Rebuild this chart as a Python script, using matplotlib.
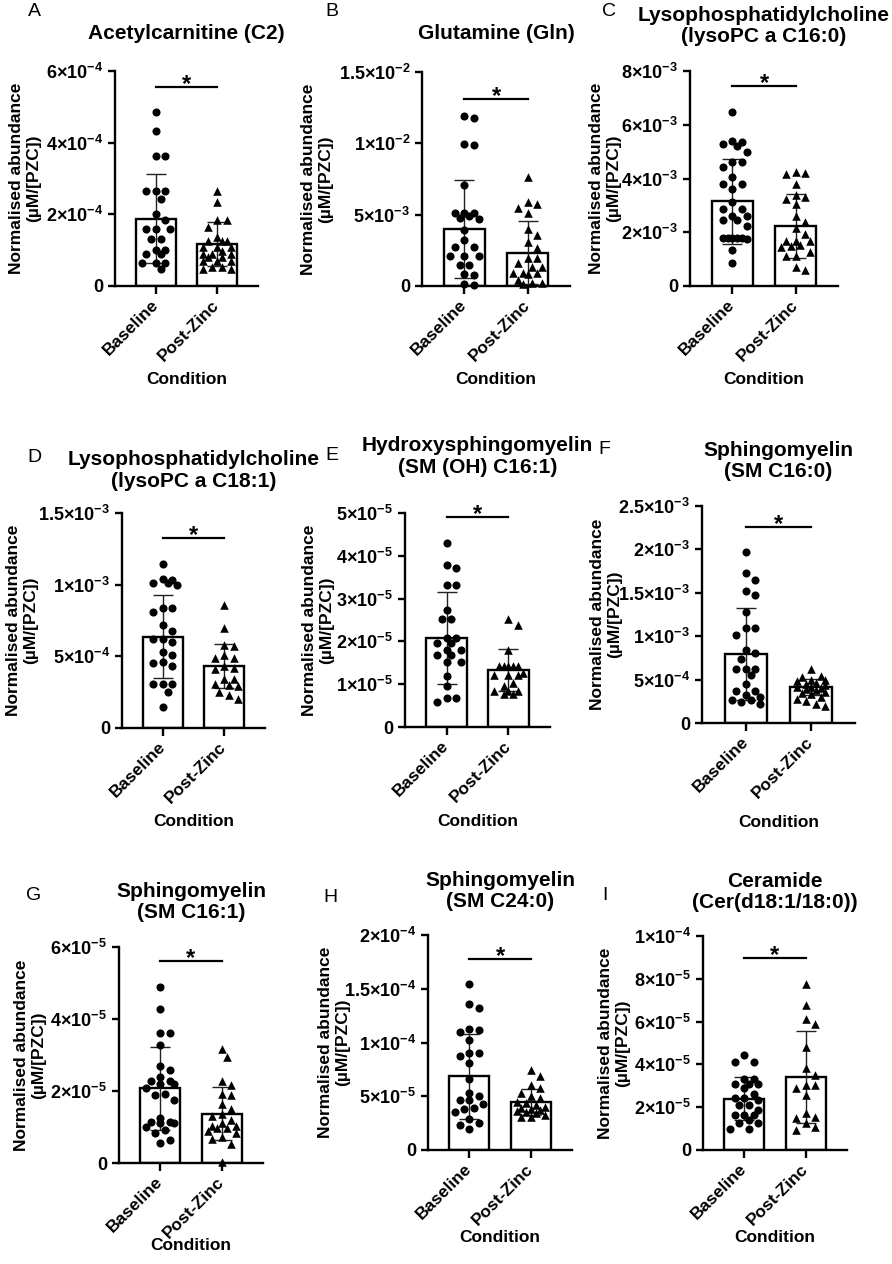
import numpy as np
import matplotlib
matplotlib.use('Agg')
import matplotlib.pyplot as plt
from matplotlib.ticker import FixedLocator, FuncFormatter

plt.rcParams['font.family'] = ['Liberation Sans', 'DejaVu Sans']
plt.rcParams['font.weight'] = 'bold'
plt.rcParams['mathtext.fontset'] = 'custom'
plt.rcParams['mathtext.rm'] = 'Liberation Sans:bold'
plt.rcParams['mathtext.bf'] = 'Liberation Sans:bold'
plt.rcParams['mathtext.it'] = 'Liberation Sans:bold:italic'

# ---- data ----
groups = ['Baseline', 'Post-Zinc']
letters = ['A', 'B', 'C', 'D', 'E', 'F', 'G', 'H', 'I']
titles = ['Acetylcarnitine (C2)',
          'Glutamine (Gln)',
          'Lysophosphatidylcholine\n(lysoPC a C16:0)',
          'Lysophosphatidylcholine\n(lysoPC a C18:1)',
          'Hydroxysphingomyelin\n(SM (OH) C16:1)',
          'Sphingomyelin\n(SM C16:0)',
          'Sphingomyelin\n(SM C16:1)',
          'Sphingomyelin\n(SM C24:0)',
          'Ceramide\n(Cer(d18:1/18:0))']

base_a = np.array([4.85, 4.33, 3.64, 3.64, 2.66, 2.66, 2.66, 2.43, 2.0, 1.84, 1.58, 1.58, 1.58,
                   1.32, 1.32, 1.0, 1.0, 0.89, 0.89, 0.63, 0.63, 0.63, 0.47]) * 1e-4
zinc_a = np.array([2.66, 2.35, 1.84, 1.84, 1.66, 1.38, 1.26, 1.26, 1.26, 1.1, 1.1, 1.1, 0.99,
                   0.89, 0.89, 0.89, 0.8, 0.8, 0.7, 0.7, 0.7, 0.54, 0.54, 0.47, 0.47]) * 1e-4
base_b = np.array([11.9, 11.8, 9.95, 9.85, 7.1, 5.1, 5.1, 5.1, 4.9, 4.75, 4.7, 3.9, 3.2, 2.7,
                   2.7, 2.1, 2.1, 2.1, 1.5, 1.45, 0.85, 0.8, 0.15, 0.1]) * 1e-3
zinc_b = np.array([7.65, 5.9, 5.75, 5.45, 5.1, 4.0, 3.55, 3.1, 2.65, 1.95, 1.95, 1.6, 1.35,
                   1.35, 0.9, 0.9, 0.9, 0.85, 0.45, 0.2, 0.2, 0.15]) * 1e-3
base_c = np.array([6.49, 5.4, 5.35, 5.28, 5.22, 5.0, 4.63, 4.63, 4.44, 4.07, 3.78, 3.78, 3.6,
                   3.14, 2.87, 2.87, 2.6, 2.6, 2.45, 2.45, 2.25, 1.8, 1.8, 1.8, 1.8, 1.8,
                   1.75, 1.34, 0.84]) * 1e-3
zinc_c = np.array([4.25, 4.2, 4.15, 3.78, 3.38, 3.3, 3.25, 3.05, 2.6, 2.4, 2.17, 1.93, 1.68,
                   1.68, 1.68, 1.53, 1.47, 1.45, 1.28, 1.13, 1.1, 0.72, 0.6]) * 1e-3
base_d = np.array([1.145, 1.04, 1.03, 1.01, 1.01, 1.0, 0.84, 0.84, 0.81, 0.72, 0.68, 0.62,
                   0.62, 0.60, 0.53, 0.51, 0.46, 0.455, 0.43, 0.31, 0.31, 0.31, 0.25, 0.15]) * 1e-3
zinc_d = np.array([0.86, 0.695, 0.58, 0.57, 0.51, 0.49, 0.485, 0.43, 0.42, 0.41, 0.345, 0.34,
                   0.31, 0.30, 0.29, 0.25, 0.23, 0.20]) * 1e-3
base_e = np.array([4.31, 3.79, 3.71, 3.32, 3.32, 2.74, 2.53, 2.53, 2.08, 2.08, 1.96, 1.96,
                   1.81, 1.81, 1.69, 1.69, 1.53, 1.53, 1.18, 0.95, 0.68, 0.68, 0.58]) * 1e-5
zinc_e = np.array([2.53, 2.39, 1.81, 1.43, 1.43, 1.43, 1.43, 1.43, 1.26, 1.22, 1.22, 1.22,
                   1.03, 0.95, 0.83, 0.83, 0.83, 0.78, 0.78]) * 1e-5
base_f = np.array([1.97, 1.73, 1.65, 1.52, 1.48, 1.28, 1.1, 1.1, 1.01, 0.84, 0.81, 0.74, 0.62,
                   0.62, 0.62, 0.55, 0.45, 0.37, 0.37, 0.32, 0.30, 0.27, 0.26, 0.24, 0.22]) * 1e-3
zinc_f = np.array([0.62, 0.54, 0.53, 0.5, 0.5, 0.48, 0.46, 0.45, 0.44, 0.42, 0.41, 0.4, 0.39,
                   0.38, 0.36, 0.35, 0.33, 0.3, 0.28, 0.25, 0.22, 0.2]) * 1e-3
base_g = np.array([4.9, 4.27, 3.6, 3.6, 3.28, 2.69, 2.58, 2.38, 2.28, 2.28, 2.19, 2.19, 2.07,
                   1.93, 1.88, 1.75, 1.26, 1.14, 1.14, 1.1, 1.1, 1.0, 0.91, 0.82, 0.65, 0.56]) * 1e-5
zinc_g = np.array([3.18, 2.95, 2.28, 2.16, 1.93, 1.88, 1.65, 1.51, 1.37, 1.3, 1.19, 1.1, 1.02,
                   1.02, 0.96, 0.96, 0.89, 0.82, 0.72, 0.68, 0.52, 0.02]) * 1e-5
base_h = np.array([15.4, 13.6, 13.2, 11.3, 11.2, 11.0, 10.2, 9.05, 9.05, 8.7, 8.1, 6.6, 5.3,
                   5.0, 4.65, 4.65, 4.3, 3.9, 3.8, 3.55, 2.85, 2.55, 2.3, 2.0]) * 1e-5
zinc_h = np.array([7.45, 6.9, 6.05, 5.75, 5.3, 5.0, 4.8, 4.5, 4.35, 4.2, 4.0, 3.9, 3.8, 3.7,
                   3.6, 3.55, 3.4, 3.25, 3.1, 3.1]) * 1e-5
base_i = np.array([4.43, 4.12, 4.12, 3.34, 3.34, 3.1, 3.1, 3.1, 2.88, 2.64, 2.41, 2.41, 2.33,
                   2.1, 2.1, 1.87, 1.63, 1.63, 1.63, 1.4, 1.24, 1.24, 0.96, 0.96]) * 1e-5
zinc_i = np.array([7.75, 6.77, 6.1, 5.88, 4.79, 3.81, 3.5, 3.03, 3.03, 2.88, 2.57, 1.71, 1.52,
                   1.48, 1.24, 1.06, 0.93]) * 1e-5

base_vals = [base_a, base_b, base_c, base_d, base_e, base_f, base_g, base_h, base_i]
zinc_vals = [zinc_a, zinc_b, zinc_c, zinc_d, zinc_e, zinc_f, zinc_g, zinc_h, zinc_i]

# mean and SD as shown by the bars / error bars
mean_base = [1.88e-4, 4.0e-3, 3.16e-3, 0.637e-3, 2.08e-5, 0.79e-3, 2.07e-5, 6.88e-5, 2.39e-5]
sd_base = [1.24e-4, 3.45e-3, 1.58e-3, 0.288e-3, 1.07e-5, 0.53e-3, 1.16e-5, 3.95e-5, 1.0e-5]
mean_zinc = [1.17e-4, 2.33e-3, 2.23e-3, 0.43e-3, 1.33e-5, 0.415e-3, 1.37e-5, 4.43e-5, 3.42e-5]
sd_zinc = [0.61e-4, 2.2e-3, 1.18e-3, 0.153e-3, 0.5e-5, 0.09e-3, 0.74e-5, 1.22e-5, 2.15e-5]

yticks = [[0, 2e-4, 4e-4, 6e-4],
          [0, 5e-3, 1e-2, 1.5e-2],
          [0, 2e-3, 4e-3, 6e-3, 8e-3],
          [0, 5e-4, 1e-3, 1.5e-3],
          [0, 1e-5, 2e-5, 3e-5, 4e-5, 5e-5],
          [0, 5e-4, 1e-3, 1.5e-3, 2e-3, 2.5e-3],
          [0, 2e-5, 4e-5, 6e-5],
          [0, 5e-5, 1e-4, 1.5e-4, 2e-4],
          [0, 2e-5, 4e-5, 6e-5, 8e-5, 1e-4]]

# ---- layout (pixels in the 892x1264 figure) ----
W, H = 892, 1264
axes_px = [(115, 71, 258, 286), (422, 72, 570, 286), (690, 71, 838, 286),
           (122, 513, 265, 728), (405, 513, 550, 727), (702, 506, 855, 723),
           (119, 947, 263, 1163), (428, 935, 572, 1150), (703, 936, 847, 1150)]
letter_px = [(34, 11), (332, 11), (609, 11), (34, 457), (332, 455), (604, 450),
             (34, 895), (330, 897), (605, 896)]
title_pad = [23, 24, 21, 19, 29, 21, 21, 20, 20]
ylabel_dx = [-90, -105, -85, -100, -87, -96, -89, -94, -89]
xlabel_dy = [94, 94, 94, 94, 94, 99, 82, 87, 87]
sig_frac = [0.925, 0.873, 0.93, 0.883, 0.98, 0.904, 0.937, 0.89, 0.897]


def sci_fmt(v, pos=None):
    if v == 0:
        return '0'
    e = int(np.floor(np.log10(v) + 1e-9))
    m = v / 10 ** e
    return r'$%s{\times}10^{%d}$' % (('%.1f' % m).rstrip('0').rstrip('.'), e)


def swarm_offsets(ax, xc, vals, diam, maxoff):
    # simple beeswarm kept inside the bar: free spot if there is one,
    # otherwise the spot with the least crowding
    pts = ax.transData.transform(np.column_stack([np.full(len(vals), xc), vals]))
    ys = pts[:, 1]
    px_per_x = ax.transData.transform((1, 0))[0] - ax.transData.transform((0, 0))[0]
    maxpx = maxoff * px_per_x
    nstep = int(maxpx // (diam * 0.5))
    cands = [0.0]
    for k in range(1, nstep + 1):
        cands += [k * diam * 0.5, -k * diam * 0.5]
    placed = []
    offs = np.zeros(len(vals))
    for i in np.argsort(-ys):
        best, best_d = 0.0, -1
        for dx in cands:
            d = min([np.hypot(px - dx, py - ys[i]) for px, py in placed] + [1e9])
            if d >= diam:
                best = dx
                break
            if d > best_d:
                best, best_d = dx, d
        placed.append((best, ys[i]))
        offs[i] = best / px_per_x
    return offs


fig = plt.figure(figsize=(W / 100, H / 100), dpi=100)

for i in range(9):
    l, t, r, b = axes_px[i]
    ax = fig.add_axes([l / W, 1 - b / H, (r - l) / W, (b - t) / H])
    ax.set_xlim(-0.67, 1.67)
    ax.set_ylim(0, yticks[i][-1])

    ax.bar([0, 1], [mean_base[i], mean_zinc[i]], width=0.65, color='white',
           edgecolor='black', linewidth=1.7, zorder=1)
    ax.errorbar([0, 1], [mean_base[i], mean_zinc[i]], yerr=[sd_base[i], sd_zinc[i]],
                fmt='none', ecolor='#222222', elinewidth=1.0, capsize=7, capthick=1.0,
                zorder=2)

    ob = swarm_offsets(ax, 0, base_vals[i], 9.5, 0.27)
    oz = swarm_offsets(ax, 1, zinc_vals[i], 9.5, 0.27)
    ax.scatter(0 + ob, base_vals[i], s=34, marker='o', color='black', linewidths=0,
               zorder=3, clip_on=False)
    ax.scatter(1 + oz, zinc_vals[i], s=38, marker='^', color='black', linewidths=0,
               zorder=3, clip_on=False)

    # significance bar
    sy = sig_frac[i] * yticks[i][-1]
    ax.plot([0, 1], [sy, sy], color='black', lw=1.6, clip_on=False, zorder=4)
    ax.annotate('*', (0.5, sy), xytext=(0, -3), textcoords='offset points',
                ha='center', va='baseline', fontsize=17, fontweight='bold',
                annotation_clip=False)

    for side in ['top', 'right']:
        ax.spines[side].set_visible(False)
    for side in ['left', 'bottom']:
        ax.spines[side].set_linewidth(1.7)

    ax.yaxis.set_major_locator(FixedLocator(yticks[i]))
    ax.yaxis.set_major_formatter(FuncFormatter(sci_fmt))
    ax.set_xticks([0, 1])
    ax.set_xticklabels(groups, rotation=45, ha='right', va='center',
                       rotation_mode='anchor')
    ax.tick_params(axis='both', width=1.7, length=5, labelsize=13)
    ax.tick_params(axis='x', length=6, pad=6, labelsize=12.5)

    ax.set_title(titles[i], fontsize=15, fontweight='bold', pad=title_pad[i],
                 linespacing=1.15)
    ax.set_ylabel('Normalised abundance\n(µM/[PZC])', fontsize=12.5,
                  fontweight='bold', va='center', linespacing=1.15)
    ax.yaxis.set_label_coords(ylabel_dx[i] / (r - l), 0.5)
    ax.set_xlabel('Condition', fontsize=12.5, fontweight='bold', va='center')
    ax.xaxis.set_label_coords(0.5, -xlabel_dy[i] / (b - t))

    fig.text(letter_px[i][0] / W, 1 - letter_px[i][1] / H, letters[i], fontsize=14,
             fontweight='normal', family=['Liberation Sans Narrow', 'Liberation Sans'],
             ha='center', va='center')

fig.savefig('out.png', dpi=100)
